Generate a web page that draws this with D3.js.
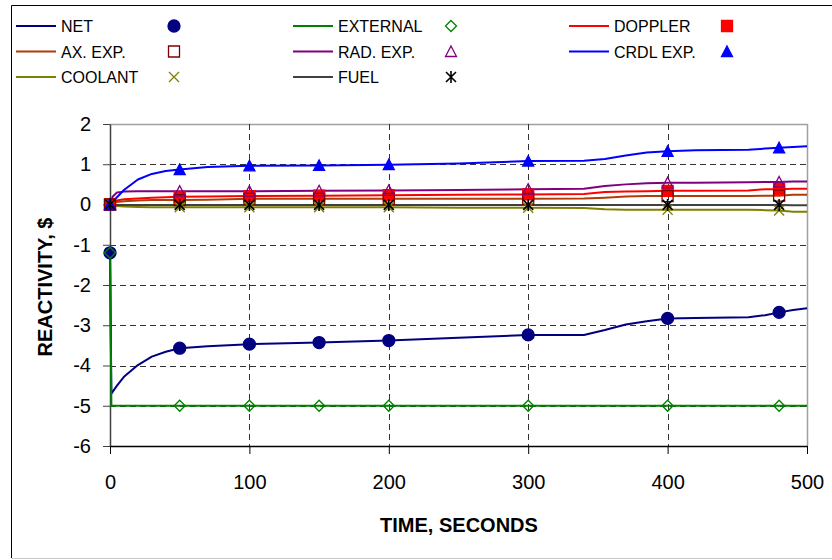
<!DOCTYPE html>
<html>
<head>
<meta charset="utf-8">
<script src="https://cdn.jsdelivr.net/npm/d3@7"></script>
<style>
  body { margin: 0; background: #fff; }
  svg { display: block; font-family: "Liberation Sans", Arial, sans-serif; }
</style>
</head>
<body>
<div id="chart"></div>
<script>
// time points of the traces (seconds)
var times = [0, 1, 2, 5, 10, 20, 30, 40, 50, 70, 100, 150, 200, 250, 300, 340, 355, 370, 385, 400, 420, 458, 470, 480, 490, 500];

var netVals      = [-1.2, -4.7, -4.65, -4.5, -4.28, -3.99, -3.78, -3.66, -3.57, -3.52, -3.47, -3.43, -3.38, -3.31, -3.24, -3.24, -3.12, -2.98, -2.9, -2.83, -2.82, -2.8, -2.75, -2.68, -2.62, -2.58];
var externalVals = [-1.2, -5, -5, -5, -5, -5, -5, -5, -5, -5, -5, -5, -5, -5, -5, -5, -5, -5, -5, -5, -5, -5, -5, -5, -5, -5];
var dopplerVals  = [0, 0.02, 0.05, 0.1, 0.13, 0.15, 0.17, 0.18, 0.19, 0.2, 0.21, 0.22, 0.23, 0.24, 0.25, 0.26, 0.31, 0.32, 0.33, 0.34, 0.34, 0.35, 0.38, 0.38, 0.39, 0.39];
var axExpVals    = [0, 0.01, 0.03, 0.06, 0.08, 0.1, 0.11, 0.11, 0.11, 0.12, 0.14, 0.14, 0.14, 0.14, 0.14, 0.15, 0.17, 0.2, 0.21, 0.21, 0.21, 0.21, 0.22, 0.22, 0.24, 0.24];
var radExpVals   = [0, 0.1, 0.2, 0.3, 0.32, 0.33, 0.33, 0.33, 0.33, 0.33, 0.33, 0.34, 0.35, 0.36, 0.38, 0.39, 0.46, 0.5, 0.53, 0.54, 0.54, 0.55, 0.56, 0.56, 0.57, 0.57];
var crdlExpVals  = [0, 0.03, 0.07, 0.18, 0.36, 0.62, 0.76, 0.83, 0.87, 0.93, 0.96, 0.97, 0.99, 1.02, 1.08, 1.09, 1.13, 1.22, 1.29, 1.32, 1.35, 1.36, 1.39, 1.41, 1.43, 1.45];
var coolantVals  = [0, -0.01, -0.02, -0.04, -0.05, -0.06, -0.07, -0.07, -0.07, -0.07, -0.07, -0.07, -0.07, -0.08, -0.08, -0.09, -0.12, -0.13, -0.13, -0.13, -0.13, -0.13, -0.14, -0.15, -0.18, -0.18];
var fuelVals     = [0, -0.01, -0.01, -0.01, -0.01, -0.01, -0.01, -0.01, -0.01, -0.01, -0.01, -0.01, -0.01, -0.01, -0.01, -0.01, -0.01, -0.01, -0.01, -0.01, -0.01, -0.01, -0.01, -0.01, -0.02, -0.02];

// times where symbols are drawn
var markerTimes = [0, 50, 100, 150, 200, 300, 400, 480];

var xTicks = [0, 100, 200, 300, 400, 500];
var yTicks = [-6, -5, -4, -3, -2, -1, 0, 1, 2];

var series = [
  { title: "NET",       vals: netVals,      color: "#000080", mark: "circle",   mcolor: "#000080", filled: true },
  { title: "EXTERNAL",  vals: externalVals, color: "#008000", mark: "diamond",  mcolor: "#008000", filled: false },
  { title: "DOPPLER",   vals: dopplerVals,  color: "#ff0000", mark: "square",   mcolor: "#ff0000", filled: true },
  { title: "AX. EXP.",  vals: axExpVals,    color: "#b03c08", mark: "square",   mcolor: "#800000", filled: false },
  { title: "RAD. EXP.", vals: radExpVals,   color: "#800080", mark: "triangle", mcolor: "#800080", filled: false },
  { title: "CRDL EXP.", vals: crdlExpVals,  color: "#0000ff", mark: "triangle", mcolor: "#0000ff", filled: true },
  { title: "COOLANT",   vals: coolantVals,  color: "#808000", mark: "x",        mcolor: "#808000", filled: false },
  { title: "FUEL",      vals: fuelVals,     color: "#404040", mark: "star",     mcolor: "#000000", filled: false }
];

var W = 832, H = 560;
var plot = {left: 110, right: 807, top: 124, bottom: 446};

var svg = d3.select("#chart").append("svg")
  .attr("width", W)
  .attr("height", H);

// outer frame
svg.append("line").attr("x1", 11.5).attr("x2", W).attr("y1", 5.5).attr("y2", 5.5).attr("stroke", "#000");
svg.append("line").attr("x1", 11.5).attr("x2", 11.5).attr("y1", 5.5).attr("y2", 558).attr("stroke", "#000");
svg.append("line").attr("x1", 11.5).attr("x2", W).attr("y1", 558.5).attr("y2", 558.5).attr("stroke", "#c8c8c8");

var x = d3.scaleLinear().domain([0, 500]).range([plot.left, plot.right]);
var y = d3.scaleLinear().domain([-6, 2]).range([plot.bottom, plot.top]);

// plot box (top and right, gray)
svg.append("path")
  .attr("d", "M" + plot.left + "," + (plot.top + 0.5) + "H" + (plot.right + 0.5) + "V" + plot.bottom)
  .attr("fill", "none")
  .attr("stroke", "#a0a0a0")
  .attr("stroke-width", 1.5);

// dashed grid
svg.append("g").selectAll("line")
  .data(yTicks.filter(d => d > -6 && d < 2))
  .enter().append("line")
  .attr("x1", plot.left).attr("x2", plot.right)
  .attr("y1", d => Math.round(y(d)) + 0.5).attr("y2", d => Math.round(y(d)) + 0.5)
  .attr("stroke", "#333")
  .attr("stroke-dasharray", "6,4");
svg.append("g").selectAll("line")
  .data(xTicks.filter(d => d > 0 && d < 500))
  .enter().append("line")
  .attr("y1", plot.top).attr("y2", plot.bottom)
  .attr("x1", d => Math.round(x(d)) + 0.5).attr("x2", d => Math.round(x(d)) + 0.5)
  .attr("stroke", "#333")
  .attr("stroke-dasharray", "6,4");

// axes (plain hyphen for negatives, like the original)
var yAxis = svg.append("g")
  .attr("transform", "translate(" + plot.left + ",0)")
  .call(d3.axisLeft(y).tickValues(yTicks).tickSize(7).tickSizeOuter(0).tickPadding(12).tickFormat(d => String(d)));
yAxis.select(".domain").attr("stroke", "#404040").attr("stroke-width", 1.5);
yAxis.selectAll(".tick line").attr("stroke", "#404040");
yAxis.selectAll("text").attr("font-size", 20).attr("font-family", "Liberation Sans, Arial, sans-serif").attr("fill", "#000");

var xAxis = svg.append("g")
  .attr("transform", "translate(0," + plot.bottom + ")")
  .call(d3.axisBottom(x).tickValues(xTicks).tickSize(8).tickSizeOuter(0).tickPadding(21).tickFormat(d => String(d)));
xAxis.select(".domain").attr("stroke", "#000").attr("stroke-width", 1.5);
xAxis.selectAll(".tick line").attr("stroke", "#000");
xAxis.selectAll("text").attr("font-size", 20).attr("font-family", "Liberation Sans, Arial, sans-serif").attr("fill", "#000");

// axis titles
svg.append("text")
  .attr("x", 459).attr("y", 532)
  .attr("text-anchor", "middle")
  .attr("font-size", 20).attr("font-weight", "bold")
  .text("TIME, SECONDS");
svg.append("text")
  .attr("transform", "translate(52,287) rotate(-90)")
  .attr("text-anchor", "middle")
  .attr("font-size", 20).attr("font-weight", "bold")
  .text("REACTIVITY, $");

// marker shapes
function markerPath(shape) {
  switch (shape) {
    case "circle":   return "M-6,0A6,6 0 1,0 6,0A6,6 0 1,0 -6,0Z";
    case "diamond":  return "M0,-5.5L5.5,0L0,5.5L-5.5,0Z";
    case "square":   return "M-5.5,-5.5H5.5V5.5H-5.5Z";
    case "triangle": return "M0,-5.5L5.5,5L-5.5,5Z";
    case "x":        return "M-5,-5L5,5M-5,5L5,-5";
    case "star":     return "M-5,-5L5,5M-5,5L5,-5M0,-6V6";
  }
}

function drawMarker(g, spec, px, py) {
  g.append("path")
    .attr("transform", "translate(" + px + "," + py + ")")
    .attr("d", markerPath(spec.mark))
    .attr("fill", spec.filled ? spec.mcolor : "none")
    .attr("stroke", spec.mcolor)
    .attr("stroke-width", spec.mark == "star" ? 1.6 : 1.3);
}

var line = d3.line()
  .x((d, i) => x(times[i]))
  .y(d => y(d));

var lines = svg.append("g");
series.forEach(function(spec) {
  lines.append("path")
    .datum(spec.vals)
    .attr("fill", "none")
    .attr("stroke", spec.color)
    .attr("stroke-width", 2)
    .attr("stroke-linejoin", "round")
    .attr("d", line);
});

var marks = svg.append("g");
series.forEach(function(spec) {
  markerTimes.forEach(function(t) {
    var v = spec.vals[times.indexOf(t)];
    drawMarker(marks, spec, x(t), y(v));
  });
});

// legend, 3 columns
var legCols = [16, 293, 569];
var legend = svg.append("g");
series.forEach(function(spec, i) {
  var lx = legCols[i % 3];
  var ly = 26 + Math.floor(i / 3) * 25.5;
  legend.append("line")
    .attr("x1", lx).attr("x2", lx + 40)
    .attr("y1", ly).attr("y2", ly)
    .attr("stroke", spec.color).attr("stroke-width", 2);
  legend.append("text")
    .attr("x", lx + 45).attr("y", ly + 6)
    .attr("font-size", 16)
    .text(spec.title);
  drawMarker(legend, spec, lx + 158, ly);
});
</script>
</body>
</html>
